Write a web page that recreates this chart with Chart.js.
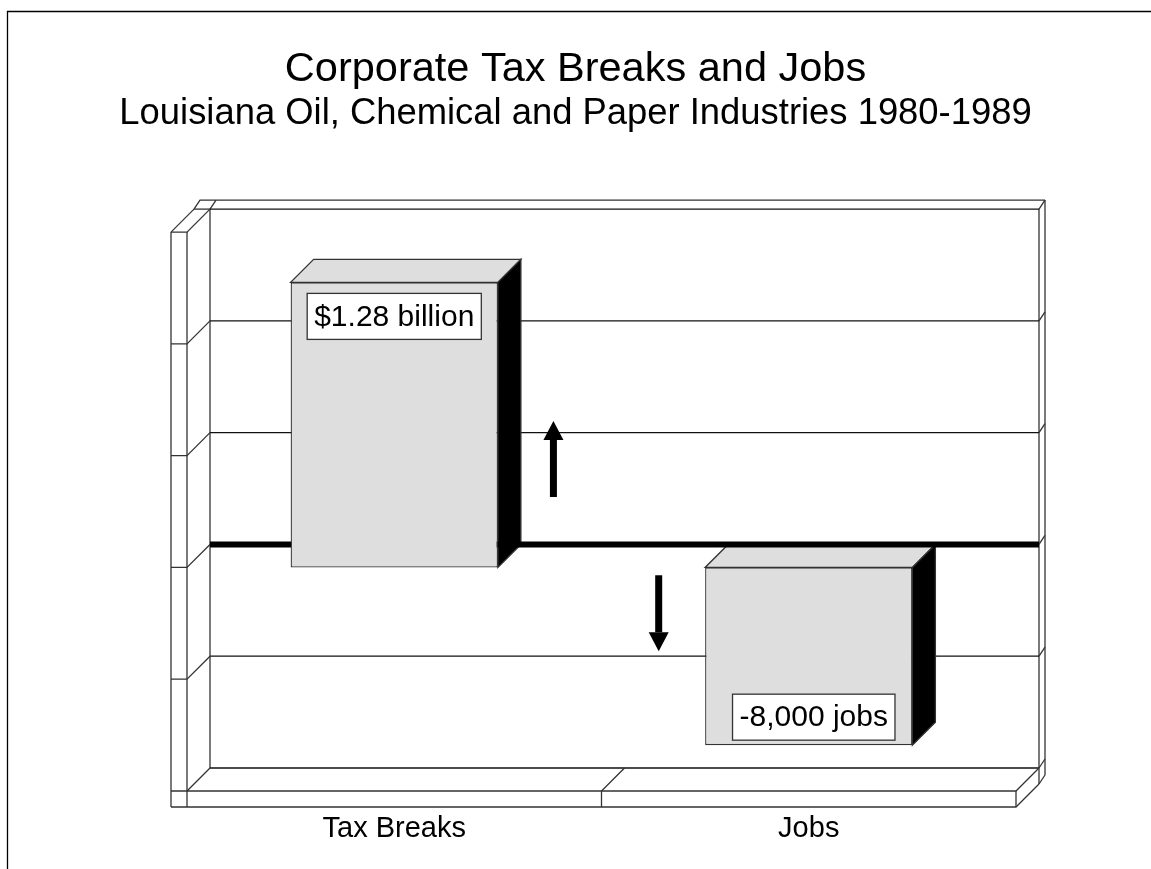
<!DOCTYPE html>
<html>
<head>
<meta charset="utf-8">
<script src="https://cdn.jsdelivr.net/npm/chart.js@4/dist/chart.umd.min.js"></script>
<style>
  html, body { margin: 0; padding: 0; background: #fff; }
  canvas { display: block; }
</style>
</head>
<body>
<canvas id="chart" width="1151" height="869"></canvas>
<script>
// ===== Data =====
const categories = ['Tax Breaks', 'Jobs'];
const barValues = [2.55, -1.59];               // relative bar heights, in axis units
const barLabels = ['$1.28 billion', '-8,000 jobs'];
const axisMin = -2;
const axisMax = 3;
const axisStep = 1;
// arrows between the bars: category position, start value, end value
const arrowX = [0.384, 0.638];
const arrowFrom = [0.63, -0.07];
const arrowTo = [1.31, -0.75];

const FONT = "'Liberation Sans', Arial, Helvetica, sans-serif";
const DEPTH = 23;      // 3d offset of the back wall
const WALL = 16;       // wall / floor thickness
const SLAB = { dx: 6, dy: -9 };

// ===== Utils =====
function path(ctx, pts, fill, stroke) {
  ctx.beginPath();
  ctx.moveTo(pts[0][0], pts[0][1]);
  for (let i = 1; i < pts.length; i++) ctx.lineTo(pts[i][0], pts[i][1]);
  if (fill) {
    ctx.closePath();
    ctx.fillStyle = fill;
    ctx.fill();
  }
  if (stroke !== false) ctx.stroke();
}

// ===== Plugins =====
const frame3d = {
  id: 'frame3d',
  beforeDatasetsDraw(chart) {
    const { ctx, chartArea: a, scales: { x, y } } = chart;
    const L = a.left, R = a.right, T = a.top, B = a.bottom;
    const bl = L + DEPTH, br = R + DEPTH;

    ctx.save();
    ctx.lineCap = 'butt';

    // page border
    ctx.strokeStyle = '#000';
    ctx.lineWidth = 1.3;
    path(ctx, [[7.5, chart.height], [7.5, 11.5], [chart.width, 11.5]]);

    ctx.strokeStyle = '#333';
    ctx.lineWidth = 1.3;

    // left wall
    path(ctx, [[L - WALL, T], [L - WALL, B + WALL]]);
    path(ctx, [[L, T], [L, B + WALL]]);
    path(ctx, [[L - WALL, T], [L - WALL + DEPTH, T - DEPTH]]);
    path(ctx, [[bl, T - DEPTH], [bl, B - DEPTH]]);

    // top ledge
    path(ctx, [[bl - WALL, T - DEPTH], [bl - WALL + SLAB.dx, T - DEPTH + SLAB.dy], [br + SLAB.dx, T - DEPTH + SLAB.dy]]);
    path(ctx, [[bl, T - DEPTH], [bl + SLAB.dx, T - DEPTH + SLAB.dy]]);
    path(ctx, [[bl - WALL, T - DEPTH], [bl, T - DEPTH]]);

    // right edge
    path(ctx, [[br, T - DEPTH], [br, B - DEPTH + WALL]]);
    path(ctx, [[br + SLAB.dx, T - DEPTH + SLAB.dy], [br + SLAB.dx, B - DEPTH + WALL + SLAB.dy]]);
    path(ctx, [[br, B - DEPTH + WALL], [br + SLAB.dx, B - DEPTH + WALL + SLAB.dy]]);

    // grid on back wall + side walls
    y.ticks.forEach(t => {
      const yf = y.getPixelForValue(t.value);
      const yb = yf - DEPTH;
      if (t.value !== 0) {
        ctx.strokeStyle = '#111';
        path(ctx, [[bl, yb], [br, yb]]);
        ctx.strokeStyle = '#333';
      }
      path(ctx, [[L - WALL, yf], [L, yf], [bl, yb]]);
      path(ctx, [[br, yb], [br + SLAB.dx, yb + SLAB.dy]]);
    });

    // floor
    path(ctx, [[L, B], [R, B], [br, B - DEPTH]]);
    path(ctx, [[L - WALL, B + WALL], [R, B + WALL], [br, B + WALL - DEPTH]]);
    path(ctx, [[R, B], [R, B + WALL]]);
    for (let i = 0; i < categories.length - 1; i++) {
      const xd = (x.getPixelForValue(i) + x.getPixelForValue(i + 1)) / 2;
      path(ctx, [[xd, B + WALL], [xd, B], [xd + DEPTH, B - DEPTH]]);
    }

    // bar top and side faces
    chart.getDatasetMeta(0).data.forEach(bar => {
      const x0 = bar.x - bar.width / 2;
      const x1 = bar.x + bar.width / 2;
      const top = Math.min(bar.y, bar.base);
      const bottom = Math.max(bar.y, bar.base);
      path(ctx, [[x0, top], [x1, top], [x1 + DEPTH, top - DEPTH], [x0 + DEPTH, top - DEPTH]], '#dedede');
      path(ctx, [[x1, top], [x1 + DEPTH, top - DEPTH], [x1 + DEPTH, bottom - DEPTH], [x1, bottom]], '#000');
    });

    // zero line
    const y0 = y.getPixelForValue(0) - DEPTH;
    ctx.strokeStyle = '#000';
    ctx.lineWidth = 6;
    path(ctx, [[bl, y0], [br, y0]]);

    // arrows
    ctx.fillStyle = '#000';
    arrowX.forEach((ax, i) => {
      const px = x.getPixelForValue(ax);
      const y1 = y.getPixelForValue(arrowFrom[i]);
      const y2 = y.getPixelForValue(arrowTo[i]);
      const dir = y2 < y1 ? -1 : 1;
      const head = 19;
      const yh = y2 - dir * head;
      ctx.fillRect(px - 3.5, Math.min(y1, yh), 7, Math.abs(yh - y1));
      ctx.beginPath();
      ctx.moveTo(px - 10, yh);
      ctx.lineTo(px + 10, yh);
      ctx.lineTo(px, y2);
      ctx.closePath();
      ctx.fill();
    });

    ctx.restore();
  },
  afterDatasetsDraw(chart) {
    const { ctx } = chart;
    ctx.save();
    ctx.font = `30px ${FONT}`;
    ctx.textAlign = 'center';
    ctx.textBaseline = 'middle';
    chart.getDatasetMeta(0).data.forEach((bar, i) => {
      const text = barLabels[i];
      const w = ctx.measureText(text).width + 14;
      const h = 46;
      const top = Math.min(bar.y, bar.base);
      const bottom = Math.max(bar.y, bar.base);
      const cy = barValues[i] >= 0 ? top + 34 : bottom - 28;
      const cx = barValues[i] >= 0 ? bar.x : bar.x + 5;
      ctx.fillStyle = '#fff';
      ctx.strokeStyle = '#333';
      ctx.lineWidth = 1.3;
      ctx.fillRect(cx - w / 2, cy - h / 2, w, h);
      ctx.strokeRect(cx - w / 2, cy - h / 2, w, h);
      ctx.fillStyle = '#000';
      ctx.fillText(text, cx, cy + 1);
    });
    ctx.restore();
  }
};

// ===== Chart =====
Chart.defaults.font.family = FONT;

new Chart(document.getElementById('chart'), {
  type: 'bar',
  data: {
    labels: categories,
    datasets: [{
      data: barValues,
      backgroundColor: '#dedede',
      borderColor: '#333',
      borderWidth: 1.3,
      borderSkipped: false,
      barPercentage: 0.5,
      categoryPercentage: 1
    }]
  },
  options: {
    responsive: false,
    animation: false,
    events: [],
    layout: { padding: 0 },
    plugins: {
      legend: { display: false },
      tooltip: { enabled: false },
      title: {
        display: true,
        text: 'Corporate Tax Breaks and Jobs',
        color: '#000',
        font: { size: 41.5, weight: 'normal', lineHeight: 1 },
        padding: { top: 48.9, bottom: 0 }
      },
      subtitle: {
        display: true,
        text: 'Louisiana Oil, Chemical and Paper Industries 1980-1989',
        color: '#000',
        font: { size: 36.4, weight: 'normal', lineHeight: 1 },
        padding: { top: 5.8, bottom: 99.5 }
      }
    },
    scales: {
      x: {
        grid: { display: false, drawTicks: false },
        border: { display: false },
        ticks: { color: '#000', font: { size: 29 }, padding: 21 },
        afterFit: s => { s.height = 78; }
      },
      y: {
        min: axisMin,
        max: axisMax,
        ticks: { stepSize: axisStep, display: false },
        grid: { display: false },
        border: { display: false },
        afterFit: s => { s.width = 187; }
      },
      yRight: {
        type: 'linear',
        position: 'right',
        ticks: { display: false },
        grid: { display: false },
        border: { display: false },
        afterFit: s => { s.width = 135; }
      }
    }
  },
  plugins: [frame3d]
});
</script>
</body>
</html>
